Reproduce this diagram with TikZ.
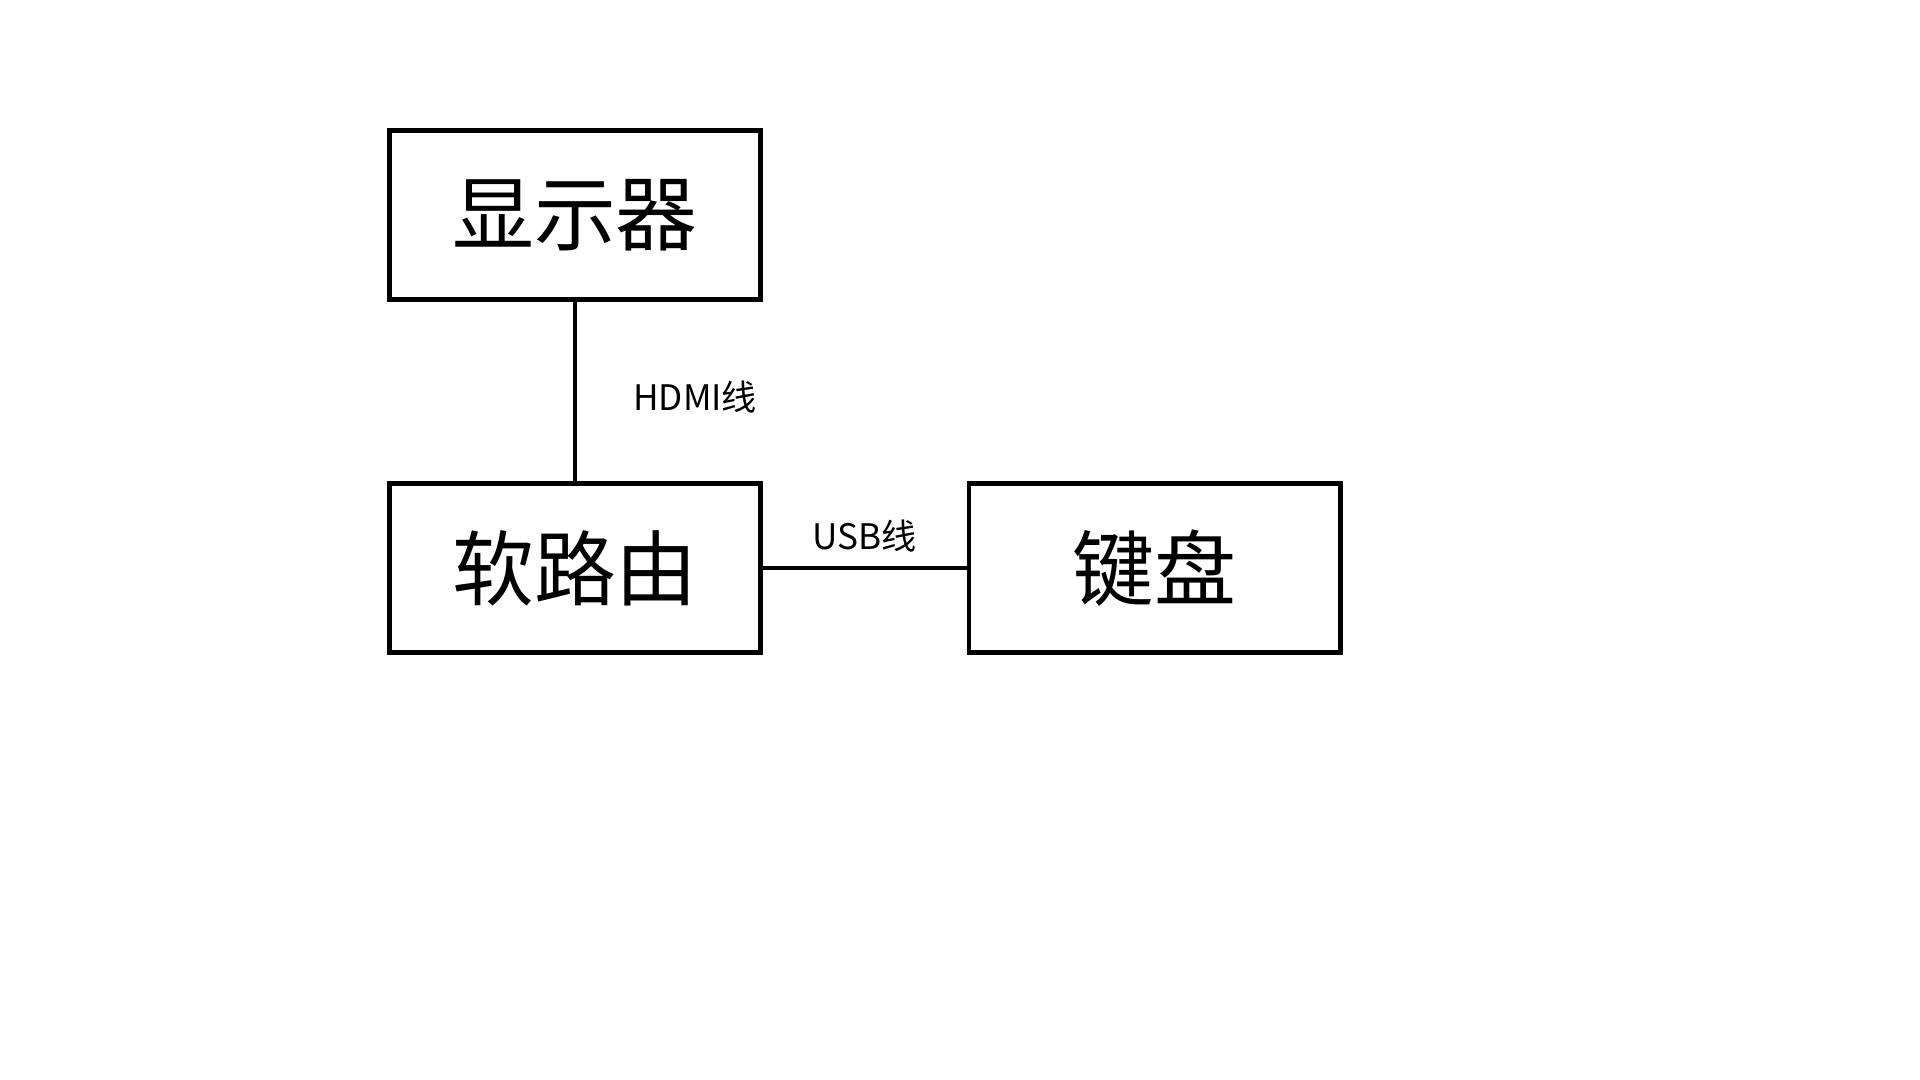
\documentclass[tikz,border=0pt]{standalone}
\usepackage{fontspec}
\setmainfont{Noto Sans CJK SC}
\usetikzlibrary{positioning}

\begin{document}
\begin{tikzpicture}[x=0.01cm, y=-0.01cm, node distance=3.53cm,
    device/.style={rectangle, draw=black, line width=1.35pt, minimum width=3.715cm, minimum height=1.69cm, text centered, font=\fontsize{23.3}{28}\selectfont},
    cable/.style={line width=1.3pt},
    tag/.style={font=\fontsize{10}{12}\selectfont, inner sep=0pt}
  ]
    \useasboundingbox (0,0) rectangle (1920,1080);

    % Devices
    \node (d_monitor) [device] at (575,215) {显示器};
    \node (d_router) [device, below of=d_monitor] {软路由};
    \node (d_keyboard) [device, right of=d_router, xshift=2.265cm] {键盘};

    % Cables
    \draw[cable] (d_monitor) -- node[tag, right=0.56cm, yshift=-0.05cm] {HDMI线} (d_router);
    \draw[cable] (d_router) -- node[tag, above=0.14cm] {USB线} (d_keyboard);

  \end{tikzpicture}
\end{document}
